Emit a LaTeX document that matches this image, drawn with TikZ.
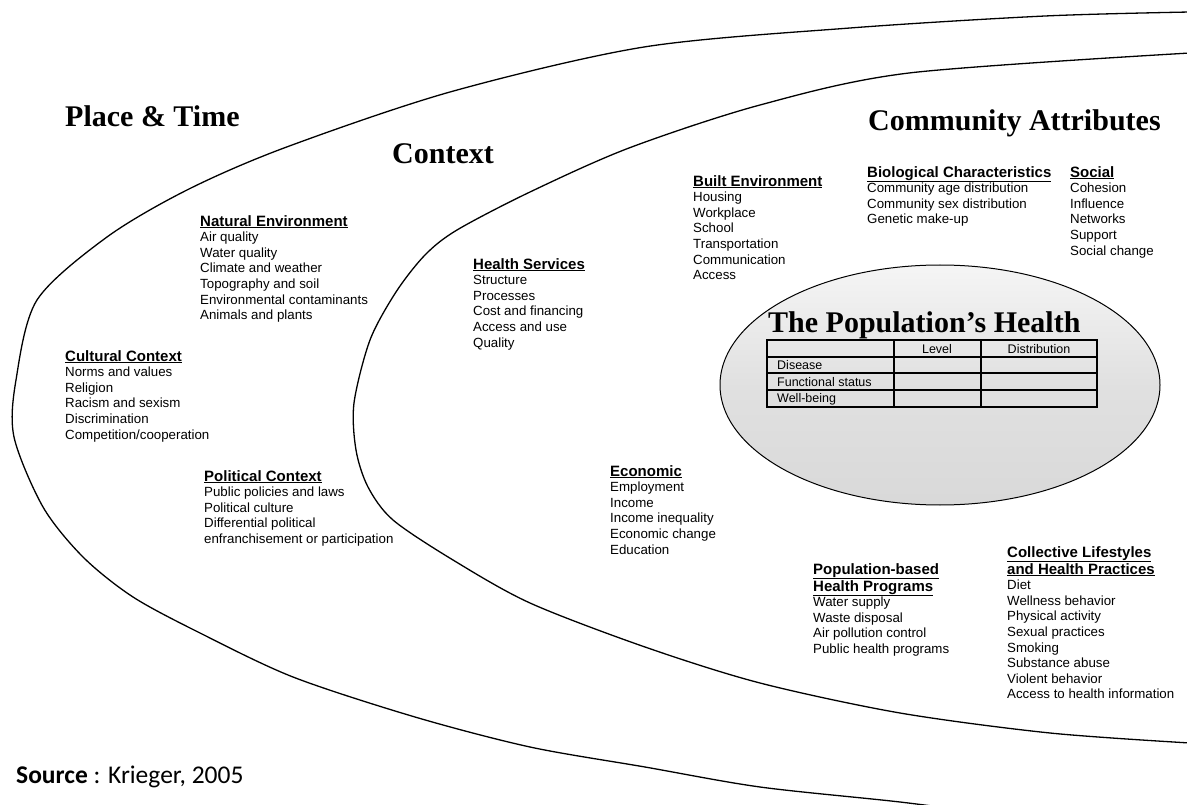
\documentclass[tikz,border=0pt]{standalone}
\usepackage{fontspec}
\setmainfont{Liberation Serif}
\setsansfont{Liberation Sans}
\newfontfamily\srcfont{Carlito}
\newcommand{\grouphead}[1]{{\fontsize{15}{15.6}\selectfont\underline{\textbf{#1}}}}

\begin{document}
\begin{tikzpicture}[x=1pt,y=-1pt]
\tikzstyle{every node}+=[inner sep=0pt]
\tikzstyle{band}=[black, line width=1.3pt]
\tikzstyle{ring}=[font=\fontsize{30}{32}\selectfont\bfseries]
\tikzstyle{block}=[anchor=north west, align=left, font=\sffamily\fontsize{13.3}{15.6}\selectfont]
\tikzstyle{cell}=[font=\sffamily\fontsize{12.5}{14}\selectfont]
\useasboundingbox (0,0) rectangle (1187,805);
% the two rings
\begin{scope}
\clip (0,0) rectangle (1187,805);
\draw [band] plot [smooth] coordinates {(1190,12) (1045,16) (850,28) (644,47) (450,92) (284,148) (187,190) (107,237) (37,300) (16,380) (14,437) (43,507) (83,557) (133,597) (200,633) (293,677) (415,717) (530,747) (645,767) (760,787) (900,802) (1000,815)};
\draw [band] plot [smooth] coordinates {(1190,53) (909,73) (760,105) (629,148) (530,192) (457,230) (425,255) (396,292) (370,340) (354,403) (356,450) (368,487) (393,520) (453,560) (530,603) (645,647) (760,683) (900,713) (1050,733) (1190,743)};
\end{scope}
% the centre
\draw [black, line width=1pt, top color=gray!8, bottom color=gray!30, middle color=gray!24] (940,385) ellipse (220 and 120);
\node [ring, anchor=base west] (pophealth) at (768,333) {The Population's Health};
\draw [line width=1.6pt] (767,340) rectangle (1097,407);
\foreach \y in {357,373,390}
  \draw [line width=1.6pt] (767,\y) -- (1097,\y);
\foreach \x in {894,981}
  \draw [line width=1.6pt] (\x,340) -- (\x,407);
\node [cell, anchor=base] (level) at (937,353) {Level};
\node [cell, anchor=base] (distrib) at (1039,353) {Distribution};
\node [cell, anchor=base west] (disease) at (777,369) {Disease};
\node [cell, anchor=base west] (funcstat) at (777,386) {Functional status};
\node [cell, anchor=base west] (wellbeing) at (777,402) {Well-being};
% ring titles
\node [ring, anchor=base west] (placetime) at (65,127) {Place \& Time};
\node [ring, anchor=base west] (context) at (392,164) {Context};
\node [ring, anchor=base west] (community) at (868,131) {Community Attributes};
% factor lists
\node [block] (natenv) at (200,215) {\grouphead{Natural Environment}\\Air quality\\Water quality\\Climate and weather\\Topography and soil\\Environmental contaminants\\Animals and plants};
\node [block] (cultural) at (65,350) {\grouphead{Cultural Context}\\Norms and values\\Religion\\Racism and sexism\\Discrimination\\Competition/cooperation};
\node [block] (political) at (204,470) {\grouphead{Political Context}\\Public policies and laws\\Political culture\\Differential political\\enfranchisement or participation};
\node [block] (healthserv) at (473,258) {\grouphead{Health Services}\\Structure\\Processes\\Cost and financing\\Access and use\\Quality};
\node [block] (built) at (693,175) {\grouphead{Built Environment}\\Housing\\Workplace\\School\\Transportation\\Communication\\Access};
\node [block] (bio) at (867,166) {\grouphead{Biological Characteristics}\\Community age distribution\\Community sex distribution\\Genetic make-up};
\node [block] (social) at (1070,166) {\grouphead{Social}\\Cohesion\\Influence\\Networks\\Support\\Social change};
\node [block] (economic) at (610,465) {\grouphead{Economic}\\Employment\\Income\\Income inequality\\Economic change\\Education};
\node [block] (popprog) at (813,563) {\grouphead{Population-based}\\\grouphead{Health Programs}\\Water supply\\Waste disposal\\Air pollution control\\Public health programs};
\node [block] (lifestyle) at (1007,546) {\grouphead{Collective Lifestyles}\\\grouphead{and Health Practices}\\Diet\\Wellness behavior\\Physical activity\\Sexual practices\\Smoking\\Substance abuse\\Violent behavior\\Access to health information};
% source
\node [anchor=base west, font=\srcfont\fontsize{25.5}{28}\selectfont] (source) at (16,783) {\textbf{Source} : Krieger, 2005};
\end{tikzpicture}
\end{document}
